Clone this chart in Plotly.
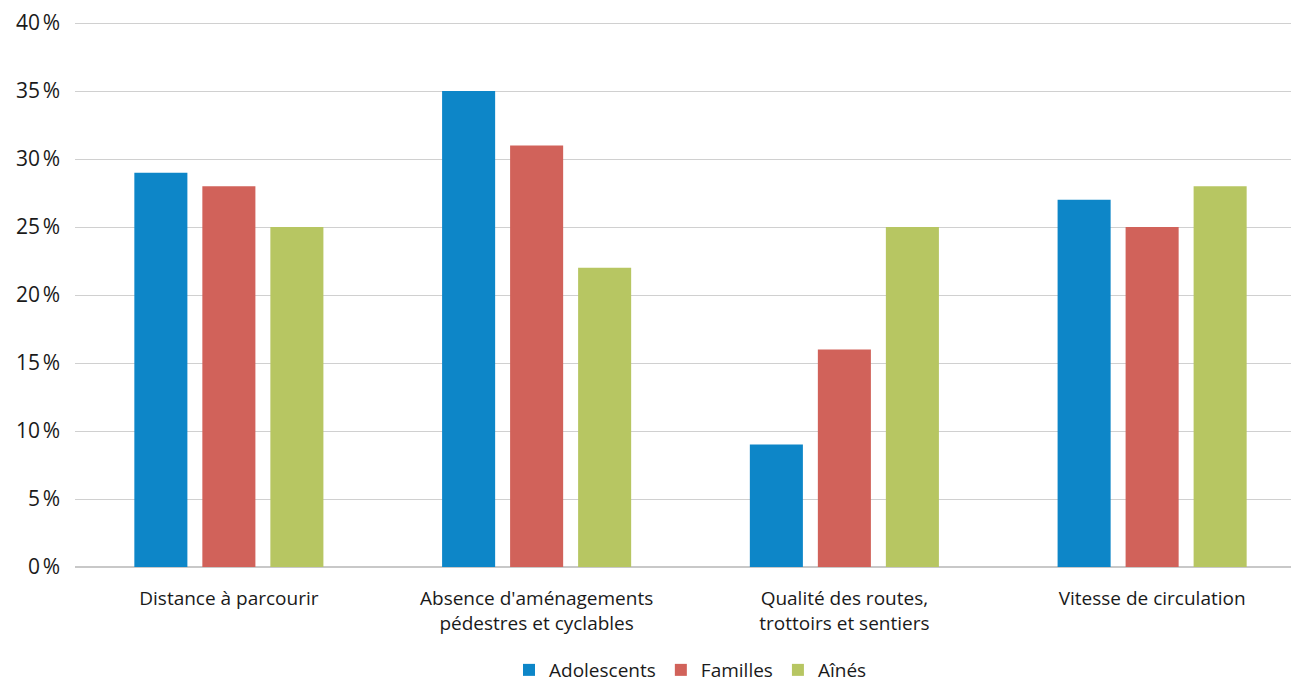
import plotly.graph_objs as go

categories = ['Distance à parcourir',
              "Absence d'aménagements<br>pédestres et cyclables",
              'Qualité des routes,<br>trottoirs et sentiers',
              'Vitesse de circulation']
adolescents = [29, 35, 9, 27]
familles = [28, 31, 16, 25]
aines = [25, 22, 25, 28]
y_ticks = [0, 5, 10, 15, 20, 25, 30, 35, 40]
y_ticktext = [f'{v}\u202f%' for v in y_ticks]

font_family = 'Open Sans, Noto Sans, sans-serif'

fig = go.Figure()
fig.add_trace(go.Bar(x=categories, y=adolescents, name='Adolescents', marker=dict(color='#0D86C8', line=dict(width=0))))
fig.add_trace(go.Bar(x=categories, y=familles, name='Familles', marker=dict(color='#D1625A', line=dict(width=0))))
fig.add_trace(go.Bar(x=categories, y=aines, name='Aînés', marker=dict(color='#B7C662', line=dict(width=0))))

# the original plot area runs a little past the right edge of the window
fig.update_layout(
    width=1306, height=683,
    barmode='group', bargap=0.337, bargroupgap=0.22,
    plot_bgcolor='white', paper_bgcolor='white',
    font=dict(family=font_family, size=19, color='#1a1a1a'),
    margin=dict(l=75, r=0, t=19, b=116),
    showlegend=True,
    legend=dict(orientation='h', x=0.5, xanchor='center', yref='container', y=0.019, yanchor='middle',
                font=dict(size=19), traceorder='normal'),
)
fig.update_yaxes(range=[0, 40.3], tickvals=y_ticks, ticktext=y_ticktext, automargin=False,
                 showgrid=True, gridcolor='#d0d0d0', gridwidth=1,
                 zeroline=True, zerolinecolor='#c8c8c8', zerolinewidth=2,
                 tickfont=dict(size=21), ticks='', showline=False, ticklabelstandoff=14)
fig.update_xaxes(showgrid=False, showline=False, ticks='', ticklabelstandoff=18, automargin=False,
                 tickfont=dict(size=19))

# page body has a default 8px margin; drop it so the figure sits at the window origin
fig.write_html('out.html', config={'displayModeBar': False},
               post_script="document.body.style.margin='0';document.body.style.overflow='hidden';")
